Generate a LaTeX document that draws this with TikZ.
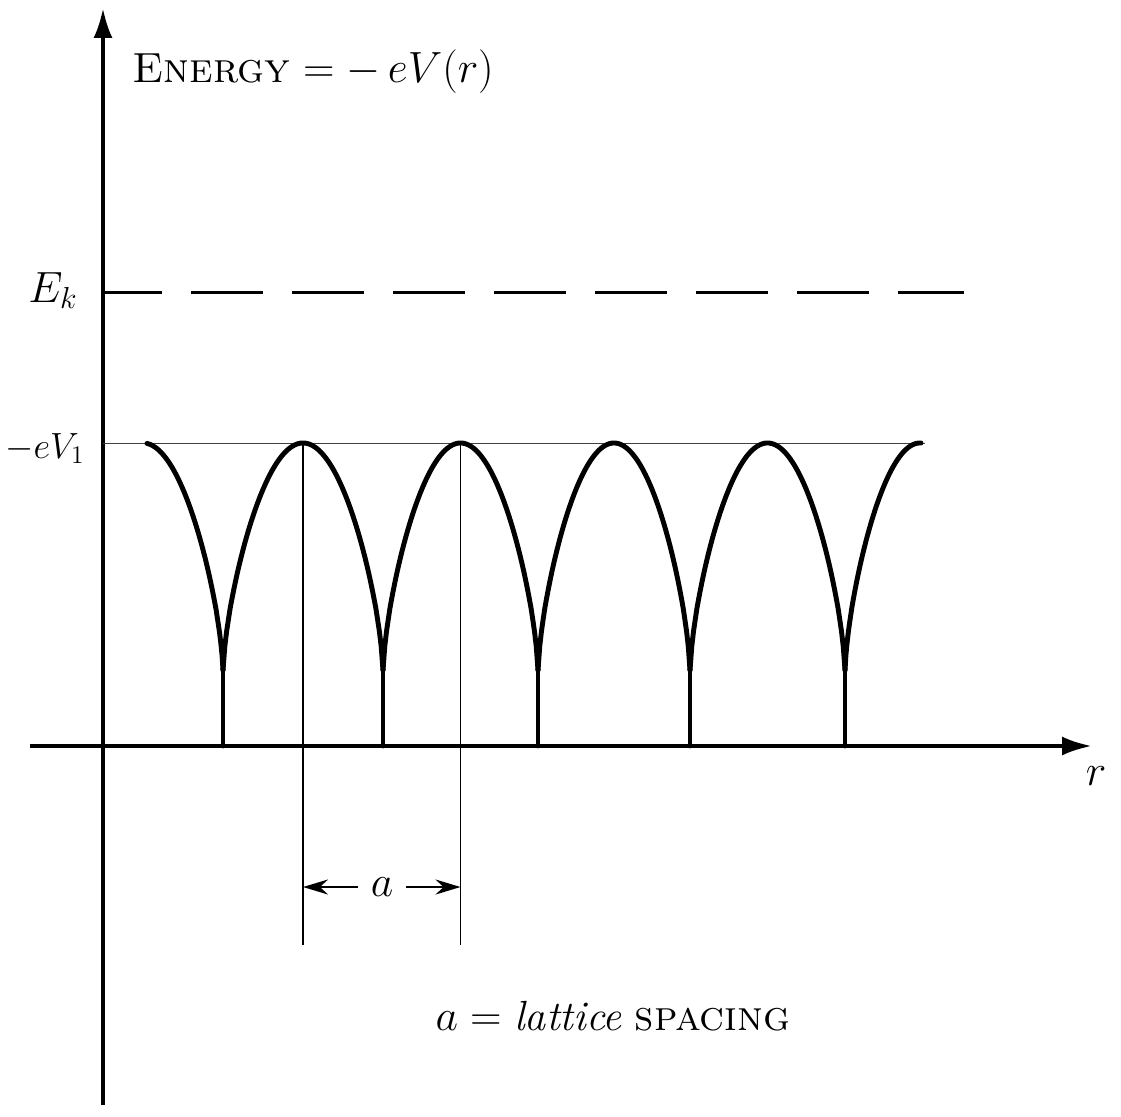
\documentclass[tikz,border=0pt]{standalone}
\usepackage{tikz}
\usetikzlibrary{arrows.meta,calc}

\begin{document}
\begin{tikzpicture}[
        x=0.02cm, y=-0.02cm,
        lbl/.style={inner sep=0pt, font=\fontsize{24}{28}\selectfont},
        axisline/.style={line width=2.3pt, -{Latex[length=0.6cm, width=0.38cm]}},
        well/.style={line width=2.8pt, line join=round, line cap=round},
        level/.style={line width=1.7pt, dash pattern=on 1.44cm off 0.58cm, dash phase=0.26cm},
        guide/.style={line width=0.5pt, black!75},
        spacer/.style={line width=1.1pt},
        dimarr/.style={line width=1.4pt, -{Stealth[length=0.5cm, width=0.3cm]}},
      ]
      \useasboundingbox (0,0) rectangle (1121,1116);

      \coordinate (origin) at (103,746);
      \coordinate (peakA) at (303,443);
      \coordinate (peakB) at (460.5,443);

      \draw[axisline] (103,1105) -- (103,8);
      \draw[axisline] (30,746) -- (1092,746);

      \draw[level] (103,292) -- (964,292);
      \draw[guide] (103,443) -- (925,443);

      \foreach \a/\b/\s/\e in {63/223/147/223, 223/383/223/383, 383/538/383/538, 538/690/538/690, 690/845/690/845, 845/995/845/921}
        \draw[well] plot[domain=\s:\e, samples=90] (\x, {673 - 230*pow(max(sin(180/(\b-\a)*(\x-\a)),0.001),0.65)});
      \foreach \c in {223,383,538,690,845}
        \draw[well] (\c,673) -- (\c,746);

      \draw[spacer] (peakA) -- ($(peakA)+(0,502)$) coordinate (footA);
      \draw[spacer] (peakB) -- ($(peakB)+(0,502)$) coordinate (footB);

      \node[lbl, inner xsep=7pt] (a) at (382,887) {$a$};
      \draw[dimarr] (a.west) -- (a.west -| peakA);
      \draw[dimarr] (a.east) -- (a.east -| peakB);

      \node[lbl, anchor=base west] (energy) at (132,82) {\textsc{Energy} $= -\,eV(r)$};
      \node[lbl, anchor=base west] (ek) at (28,302) {$E_k$};
      \node[lbl, anchor=base west, font=\fontsize{21}{25}\selectfont] (ev) at (5,458) {$-eV_1$};
      \node[lbl] (rlbl) at (1096,776) {$r$};
      \node[lbl, anchor=base] (caption) at (613,1030) {$a =$ \textit{lattice} \textsc{spacing}};

    \end{tikzpicture}
\end{document}
